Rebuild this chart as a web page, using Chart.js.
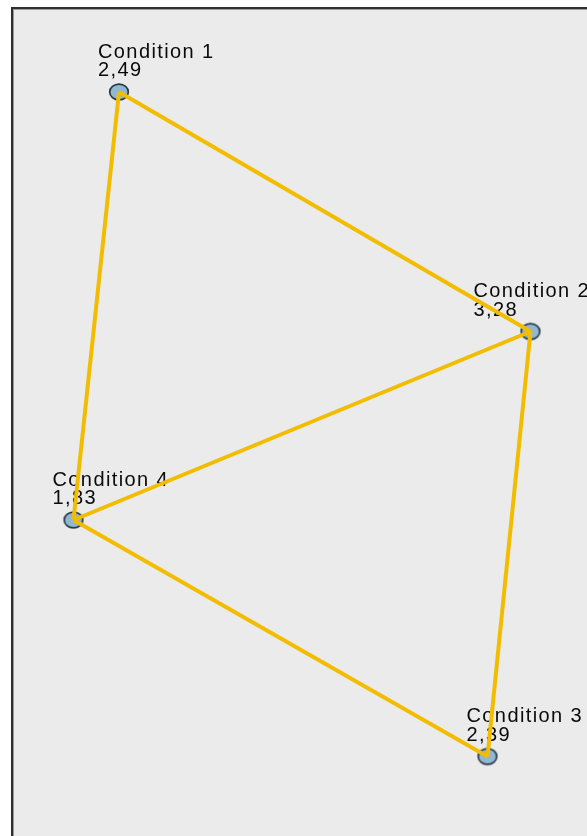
<!DOCTYPE html>
<html>
<head>
<meta charset="utf-8">
<script src="https://cdn.jsdelivr.net/npm/chart.js@4.4.0/dist/chart.umd.min.js"></script>
<style>
  html, body { margin: 0; padding: 0; background: #ffffff; overflow: hidden; }
  #wrap { position: relative; width: 587px; height: 836px; }
  canvas { display: block; }
</style>
</head>
<body>
<div id="wrap"><canvas id="c" width="587" height="836"></canvas></div>
<script>
// ---- data ----
const nodeNames = ["Condition 1", "Condition 2", "Condition 3", "Condition 4"];
const nodeValues = ["2,49", "3,28", "2,39", "1,83"];
// layout coordinates of the nodes (abstract units)
const nodeX = [1.06, 5.175, 4.745, 0.605];
const nodeY = [0.83, 3.225, 7.475, 5.11];
// connections between nodes (indices)
const edgeFrom = [0, 1, 2, 3, 1];
const edgeTo   = [1, 2, 3, 0, 3];

// ---- marker ----
function makeMarker() {
  const cv = document.createElement('canvas');
  cv.width = 24; cv.height = 20;
  const g = cv.getContext('2d');
  g.beginPath();
  g.ellipse(12, 10, 9.3, 7.9, 0, 0, Math.PI * 2);
  g.fillStyle = '#8fb8d2';
  g.fill();
  g.lineWidth = 1.7;
  g.strokeStyle = '#2c3944';
  g.stroke();
  return cv;
}
const marker = makeMarker();

const nodePoints = nodeX.map((x, i) => ({ x: x, y: nodeY[i] }));

const datasets = [];
for (let k = 0; k < edgeFrom.length; k++) {
  datasets.push({
    type: 'line',
    data: [nodePoints[edgeFrom[k]], nodePoints[edgeTo[k]]],
    borderColor: '#f2bd00',
    borderWidth: 4,
    pointRadius: 0,
    showLine: true,
    fill: false,
    tension: 0
  });
}
datasets.push({
  type: 'scatter',
  data: nodePoints,
  pointStyle: marker,
  pointRadius: 10,
  showLine: false
});

const panelPlugin = {
  id: 'panel',
  beforeDraw(chart) {
    const ctx = chart.ctx;
    ctx.save();
    ctx.fillStyle = '#ebebeb';
    ctx.fillRect(12, 8, chart.width, chart.height);
    ctx.fillStyle = '#2e2e2e';
    ctx.fillRect(11, 7, chart.width, 2);
    ctx.fillRect(11, 7, 2, chart.height);
    ctx.fillStyle = '#9a9a9a';
    ctx.fillRect(13, 9, chart.width, 1);
    ctx.fillRect(13, 9, 1, chart.height);
    ctx.restore();
  }
};

const labelPlugin = {
  id: 'nodeLabels',
  beforeDatasetsDraw(chart) {
    const ctx = chart.ctx;
    const meta = chart.getDatasetMeta(chart.data.datasets.length - 1);
    ctx.save();
    ctx.font = '20px "Liberation Sans", Arial, sans-serif';
    try { ctx.letterSpacing = '1.4px'; } catch (e) {}
    ctx.fillStyle = '#0a0a0a';
    ctx.textBaseline = 'alphabetic';
    ctx.textAlign = 'left';
    meta.data.forEach((pt, i) => {
      const w = ctx.measureText(nodeNames[i]).width;
      let lx = pt.x - 21;
      if (lx + w > chart.width + 3) lx = chart.width + 3 - w;
      ctx.fillText(nodeNames[i], lx, pt.y - 34.5);
      ctx.fillText(nodeValues[i], lx, pt.y - 16);
    });
    ctx.restore();
  }
};

new Chart(document.getElementById('c'), {
  type: 'scatter',
  data: { datasets: datasets },
  options: {
    responsive: false,
    maintainAspectRatio: false,
    devicePixelRatio: 1,
    animation: false,
    layout: { autoPadding: false, padding: { left: 13, top: 9, right: 0, bottom: 0 } },
    plugins: { legend: { display: false }, tooltip: { enabled: false } },
    scales: {
      x: { type: 'linear', min: 0, max: 5.74, display: false },
      y: { type: 'linear', min: 0, max: 8.27, reverse: true, display: false }
    }
  },
  plugins: [panelPlugin, labelPlugin]
});
</script>
</body>
</html>
